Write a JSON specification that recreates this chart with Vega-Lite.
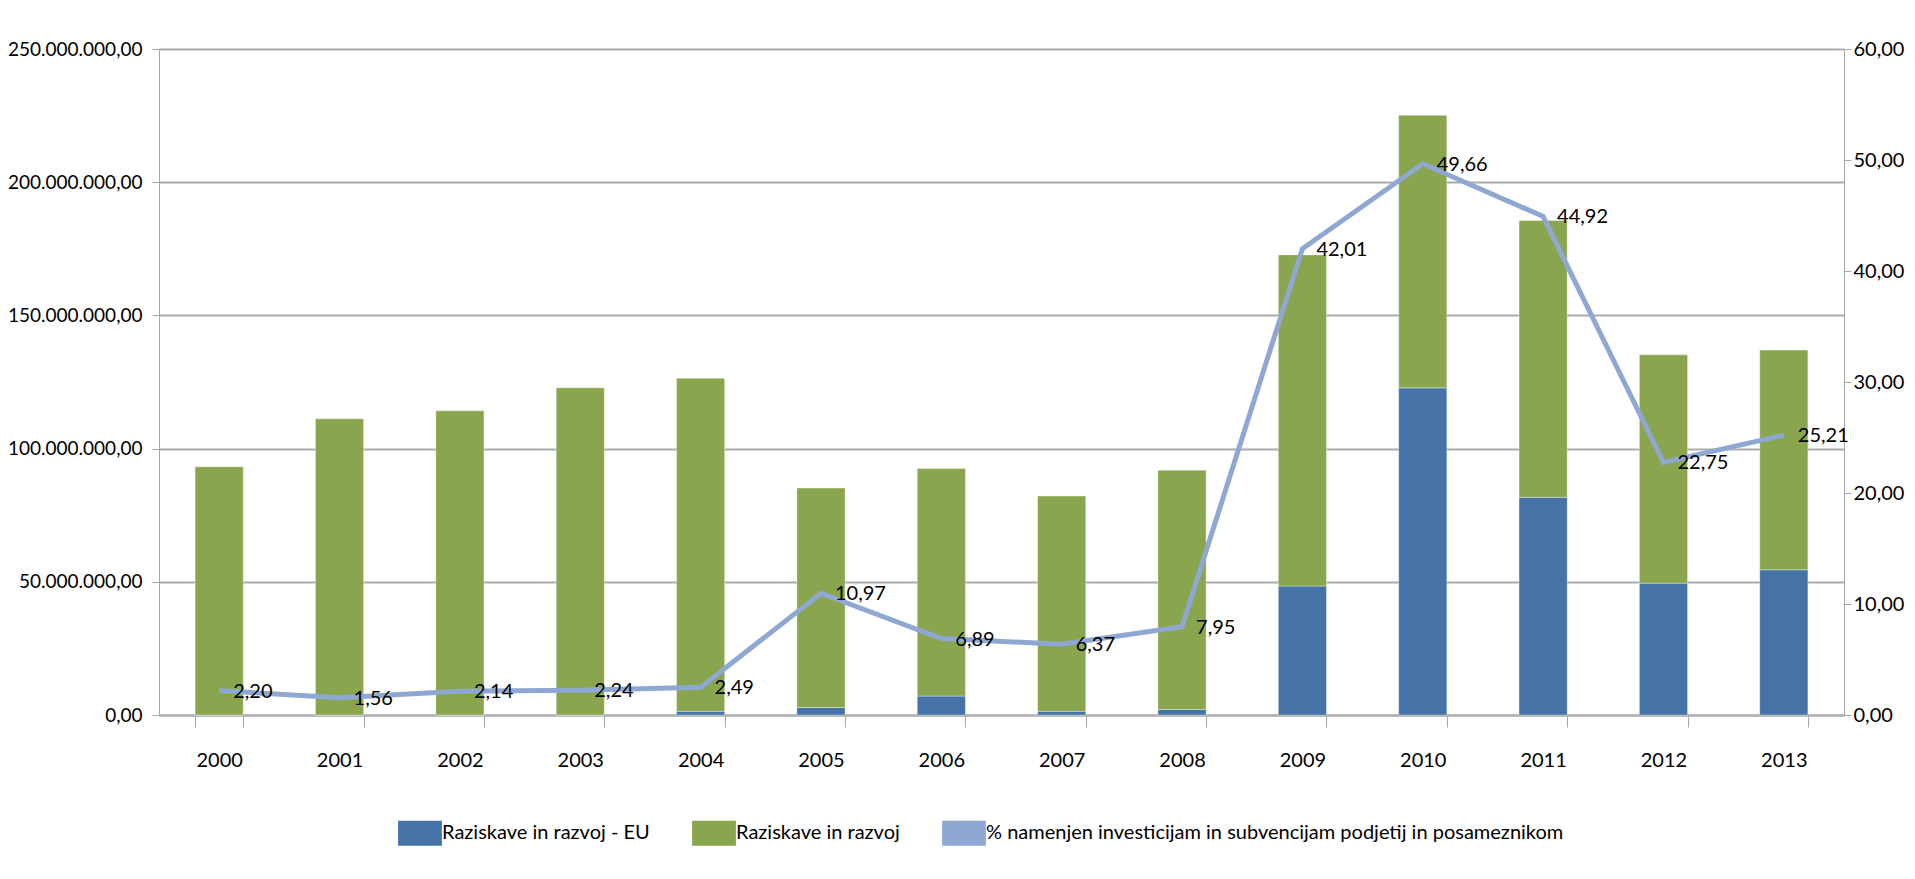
{
  "$schema": "https://vega.github.io/schema/vega-lite/v6.json",
  "width": 1685,
  "height": 666,
  "autosize": {"type": "none"},
  "padding": {"left": 159, "top": 49, "right": 71, "bottom": 164},
  "background": "#ffffff",
  "config": {
    "locale": {
      "number": {"decimal": ",", "thousands": ".", "grouping": [3], "currency": ["", " €"]}
    },
    "font": "Lato",
    "view": {"stroke": null},
    "axis": {
      "labelFont": "Lato",
      "labelFontSize": 20,
      "labelColor": "#000000",
      "domainColor": "#A6A6A6",
      "tickColor": "#A6A6A6"
    }
  },
  "datasets": {
    "financiranje": [
      {"leto": "2000", "serija": "Raziskave in razvoj - EU", "znesek": 0},
      {"leto": "2000", "serija": "Raziskave in razvoj", "znesek": 93200000},
      {"leto": "2001", "serija": "Raziskave in razvoj - EU", "znesek": 0},
      {"leto": "2001", "serija": "Raziskave in razvoj", "znesek": 111200000},
      {"leto": "2002", "serija": "Raziskave in razvoj - EU", "znesek": 0},
      {"leto": "2002", "serija": "Raziskave in razvoj", "znesek": 114200000},
      {"leto": "2003", "serija": "Raziskave in razvoj - EU", "znesek": 0},
      {"leto": "2003", "serija": "Raziskave in razvoj", "znesek": 122800000},
      {"leto": "2004", "serija": "Raziskave in razvoj - EU", "znesek": 1400000},
      {"leto": "2004", "serija": "Raziskave in razvoj", "znesek": 125000000},
      {"leto": "2005", "serija": "Raziskave in razvoj - EU", "znesek": 2800000},
      {"leto": "2005", "serija": "Raziskave in razvoj", "znesek": 82400000},
      {"leto": "2006", "serija": "Raziskave in razvoj - EU", "znesek": 7100000},
      {"leto": "2006", "serija": "Raziskave in razvoj", "znesek": 85400000},
      {"leto": "2007", "serija": "Raziskave in razvoj - EU", "znesek": 1400000},
      {"leto": "2007", "serija": "Raziskave in razvoj", "znesek": 80800000},
      {"leto": "2008", "serija": "Raziskave in razvoj - EU", "znesek": 2100000},
      {"leto": "2008", "serija": "Raziskave in razvoj", "znesek": 89800000},
      {"leto": "2009", "serija": "Raziskave in razvoj - EU", "znesek": 48400000},
      {"leto": "2009", "serija": "Raziskave in razvoj", "znesek": 124300000},
      {"leto": "2010", "serija": "Raziskave in razvoj - EU", "znesek": 122800000},
      {"leto": "2010", "serija": "Raziskave in razvoj", "znesek": 102300000},
      {"leto": "2011", "serija": "Raziskave in razvoj - EU", "znesek": 81700000},
      {"leto": "2011", "serija": "Raziskave in razvoj", "znesek": 103900000},
      {"leto": "2012", "serija": "Raziskave in razvoj - EU", "znesek": 49500000},
      {"leto": "2012", "serija": "Raziskave in razvoj", "znesek": 85700000},
      {"leto": "2013", "serija": "Raziskave in razvoj - EU", "znesek": 54500000},
      {"leto": "2013", "serija": "Raziskave in razvoj", "znesek": 82500000}
    ],
    "delez": [
      {"leto": "2000", "odstotek": 2.20},
      {"leto": "2001", "odstotek": 1.56},
      {"leto": "2002", "odstotek": 2.14},
      {"leto": "2003", "odstotek": 2.24},
      {"leto": "2004", "odstotek": 2.49},
      {"leto": "2005", "odstotek": 10.97},
      {"leto": "2006", "odstotek": 6.89},
      {"leto": "2007", "odstotek": 6.37},
      {"leto": "2008", "odstotek": 7.95},
      {"leto": "2009", "odstotek": 42.01},
      {"leto": "2010", "odstotek": 49.66},
      {"leto": "2011", "odstotek": 44.92},
      {"leto": "2012", "odstotek": 22.75},
      {"leto": "2013", "odstotek": 25.21}
    ]
  },
  "layer": [
    {
      "data": {"name": "financiranje"},
      "mark": {"type": "bar", "stroke": "#ffffff", "strokeOpacity": 0.35, "strokeWidth": 1},
      "encoding": {
        "x": {
          "field": "leto",
          "type": "ordinal",
          "scale": {"paddingInner": 0.6, "paddingOuter": 0.3},
          "axis": {
            "title": null,
            "labelAngle": 0,
            "tickBand": "extent",
            "tickSize": 12,
            "labelPadding": 23,
            "domainWidth": 2,
            "domainColor": "#ABABAB",
            "grid": false
          }
        },
        "y": {
          "field": "znesek",
          "type": "quantitative",
          "stack": "zero",
          "scale": {"domain": [0, 250000000], "nice": false},
          "axis": {
            "orient": "left",
            "title": null,
            "values": [0, 50000000, 100000000, 150000000, 200000000, 250000000],
            "format": ",.2f",
            "grid": true,
            "gridColor": "#ABABAB",
            "gridWidth": 2,
            "domainWidth": 1,
            "tickSize": 7,
            "labelPadding": 10,
            "labelFontSize": 19
          }
        },
        "color": {
          "field": "serija",
          "type": "nominal",
          "scale": {
            "domain": [
              "Raziskave in razvoj - EU",
              "Raziskave in razvoj",
              "% namenjen investicijam in subvencijam podjetij in posameznikom"
            ],
            "range": ["#4572A7", "#89A54E", "#8FA8D3"]
          },
          "legend": {
            "orient": "none",
            "legendX": 237,
            "legendY": 760,
            "direction": "horizontal",
            "title": null,
            "symbolType": "M-0.9,-0.45H0.9V0.45H-0.9Z",
            "symbolSize": 1764,
            "symbolStrokeWidth": 6,
            "labelFont": "Lato",
            "labelFontSize": 20,
            "labelColor": "#000000",
            "labelLimit": 0,
            "labelOffset": -2,
            "columnPadding": 33,
            "encode": {
              "symbols": {
                "shape": {"value": {"expr": "indexof(datum.value, '%') === 0 ? 'stroke' : 'M-0.9,-0.45H0.9V0.45H-0.9Z'"}},
                "fill": {"value": {"expr": "indexof(datum.value, '%') === 0 ? 'transparent' : scale('color', datum.value)"}},
                "stroke": {"value": {"expr": "indexof(datum.value, '%') === 0 ? scale('color', datum.value) : 'transparent'"}},
                "strokeCap": {"value": "round"},
                "opacity": {"value": 1}
              }
            }
          }
        },
        "order": {"field": "serija", "sort": "descending"}
      }
    },
    {
      "data": {"name": "delez"},
      "encoding": {
        "x": {"field": "leto", "type": "ordinal"},
        "y": {
          "field": "odstotek",
          "type": "quantitative",
          "scale": {"domain": [0, 60], "nice": false},
          "axis": {
            "orient": "right",
            "title": null,
            "values": [0, 10, 20, 30, 40, 50, 60],
            "format": ".2f",
            "grid": false,
            "domainWidth": 1,
            "tickSize": 7,
            "labelPadding": 2
          }
        }
      },
      "layer": [
        {
          "mark": {"type": "line", "strokeWidth": 5, "strokeJoin": "miter", "strokeMiterLimit": 2},
          "encoding": {
            "color": {
              "datum": "% namenjen investicijam in subvencijam podjetij in posameznikom",
              "type": "nominal"
            }
          }
        },
        {
          "mark": {
            "type": "text",
            "align": "left",
            "baseline": "middle",
            "dx": 14,
            "dy": 1,
            "font": "Lato",
            "fontSize": 20,
            "color": "#000000"
          },
          "encoding": {
            "text": {"field": "odstotek", "type": "quantitative", "format": ".2f"}
          }
        }
      ]
    }
  ],
  "resolve": {"scale": {"y": "independent"}, "axis": {"y": "independent"}}
}
